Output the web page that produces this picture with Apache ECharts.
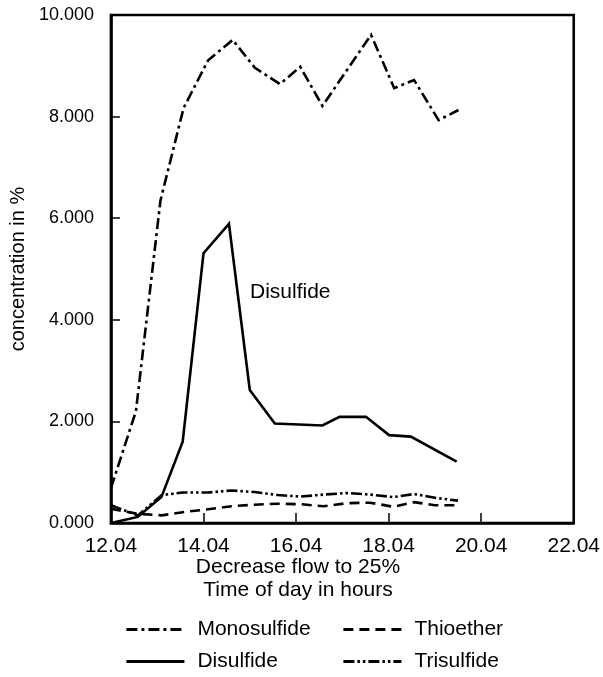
<!DOCTYPE html>
<html>
<head>
<meta charset="utf-8">
<script src="https://cdn.jsdelivr.net/npm/echarts@6/dist/echarts.min.js"></script>
<style>
  html, body { margin: 0; padding: 0; background: #fff; }
  #chart { width: 603px; height: 677px; }
</style>
</head>
<body>
<div id="chart"></div>
<script>
// Time of day (hours) and concentration (%) for each compound
const monoHours   = [12.0, 12.54, 13.07, 13.57, 14.1, 14.63, 15.11, 15.65, 16.09, 16.57, 17.62, 18.12, 18.55, 19.08, 19.51];
const monoValues  = [0.69, 2.20, 6.35, 8.17, 9.11, 9.51, 8.96, 8.64, 8.98, 8.21, 9.61, 8.56, 8.72, 7.93, 8.13];

const diHours     = [12.0, 12.58, 13.09, 13.55, 14.0, 14.55, 15.0, 15.54, 16.57, 16.94, 17.51, 18.01, 18.48, 19.47];
const diValues    = [0.00, 0.12, 0.51, 1.60, 5.31, 5.89, 2.62, 1.96, 1.92, 2.09, 2.09, 1.73, 1.70, 1.21];

const thioHours   = [12.0, 12.58, 13.1, 13.6, 14.1, 14.6, 15.1, 15.6, 16.1, 16.6, 17.1, 17.6, 18.1, 18.55, 19.0, 19.5];
const thioValues  = [0.28, 0.18, 0.15, 0.22, 0.27, 0.33, 0.36, 0.38, 0.37, 0.33, 0.39, 0.40, 0.32, 0.41, 0.35, 0.35];

const triHours    = [12.0, 12.58, 13.1, 13.55, 14.1, 14.6, 15.1, 15.6, 16.1, 16.6, 17.1, 17.6, 18.1, 18.55, 19.05, 19.5];
const triValues   = [0.35, 0.15, 0.55, 0.60, 0.60, 0.64, 0.61, 0.55, 0.52, 0.56, 0.59, 0.56, 0.51, 0.57, 0.49, 0.44];

// Axis tick labels
const xTickLabels = ['12.04', '14.04', '16.04', '18.04', '20.04', '22.04'];
const yTickLabels = ['0.000', '2.000', '4.000', '6.000', '8.000', '10.000'];

const FONT = "'Liberation Sans', Arial, Helvetica, sans-serif";

function pairs(xs, ys) {
  return xs.map((x, i) => [x, ys[i]]);
}

const chart = echarts.init(document.getElementById('chart'), null, { renderer: 'canvas' });

function lineSeries(name, xs, ys, dash) {
  return {
    name: name,
    type: 'line',
    data: pairs(xs, ys),
    symbol: 'none',
    showSymbol: false,
    animation: false,
    lineStyle: { color: '#000', width: 2.6, type: dash, cap: 'butt', join: 'miter' },
    itemStyle: { color: '#000' }
  };
}

// Legend entries: line sample only, no marker
const legendBase = {
  itemWidth: 58,
  itemHeight: 14,
  itemStyle: { color: 'transparent', borderColor: 'transparent', borderWidth: 0 },
  lineStyle: { width: 2.8 },
  textStyle: { fontFamily: FONT, fontSize: 21, color: '#000', padding: [0, 0, 0, 8] },
  selectedMode: false
};

chart.setOption({
  backgroundColor: '#fff',
  animation: false,
  grid: {
    left: 110, right: 27, top: 15, bottom: 154,
    show: true, borderColor: '#000', borderWidth: 2.6, backgroundColor: 'transparent'
  },
  xAxis: {
    type: 'value',
    min: 12, max: 22, interval: 2,
    axisLine: { show: true, lineStyle: { color: '#000', width: 2.6 } },
    axisTick: { show: true, inside: true, length: 10, lineStyle: { color: '#000', width: 1.5 } },
    axisLabel: {
      fontFamily: FONT, fontSize: 21, color: '#000', margin: 13,
      formatter: (v) => xTickLabels[Math.round((v - 12) / 2)]
    },
    splitLine: { show: false }
  },
  yAxis: {
    type: 'value',
    min: 0, max: 10, interval: 2,
    name: 'concentration in %',
    nameLocation: 'middle',
    nameGap: 81,
    nameTextStyle: { fontFamily: FONT, fontSize: 20, color: '#000' },
    axisLine: { show: true, lineStyle: { color: '#000', width: 2.6 } },
    axisTick: { show: true, inside: true, length: 9, lineStyle: { color: '#000', width: 1.5 } },
    axisLabel: {
      fontFamily: FONT, fontSize: 18, color: '#000', margin: 17,
      formatter: (v) => yTickLabels[Math.round(v / 2)]
    },
    splitLine: { show: false }
  },
  legend: [
    Object.assign({}, legendBase, { data: ['Monosulfide'], left: 120, top: 614 }),
    Object.assign({}, legendBase, { data: ['Thioether'],   left: 337, top: 614 }),
    Object.assign({}, legendBase, { data: ['Disulfide'],   left: 120, top: 646 }),
    Object.assign({}, legendBase, { data: ['Trisulfide'],  left: 337, top: 646 })
  ],
  graphic: [
    {
      type: 'text', left: 250, top: 282, silent: true,
      style: { text: 'Disulfide', fontFamily: FONT, fontSize: 21, fill: '#000' }
    },
    {
      type: 'text', x: 298, y: 556, silent: true,
      style: {
        text: 'Decrease flow to 25%\nTime of day in hours',
        fontFamily: FONT, fontSize: 21, fill: '#000',
        align: 'center', verticalAlign: 'top', lineHeight: 23
      }
    }
  ],
  series: [
    lineSeries('Monosulfide', monoHours, monoValues, [11, 4, 3, 4]),
    lineSeries('Thioether', thioHours, thioValues, [10, 6]),
    lineSeries('Disulfide', diHours, diValues, 'solid'),
    lineSeries('Trisulfide', triHours, triValues, [11, 3, 2.5, 3, 2.5, 3])
  ]
});
</script>
</body>
</html>
